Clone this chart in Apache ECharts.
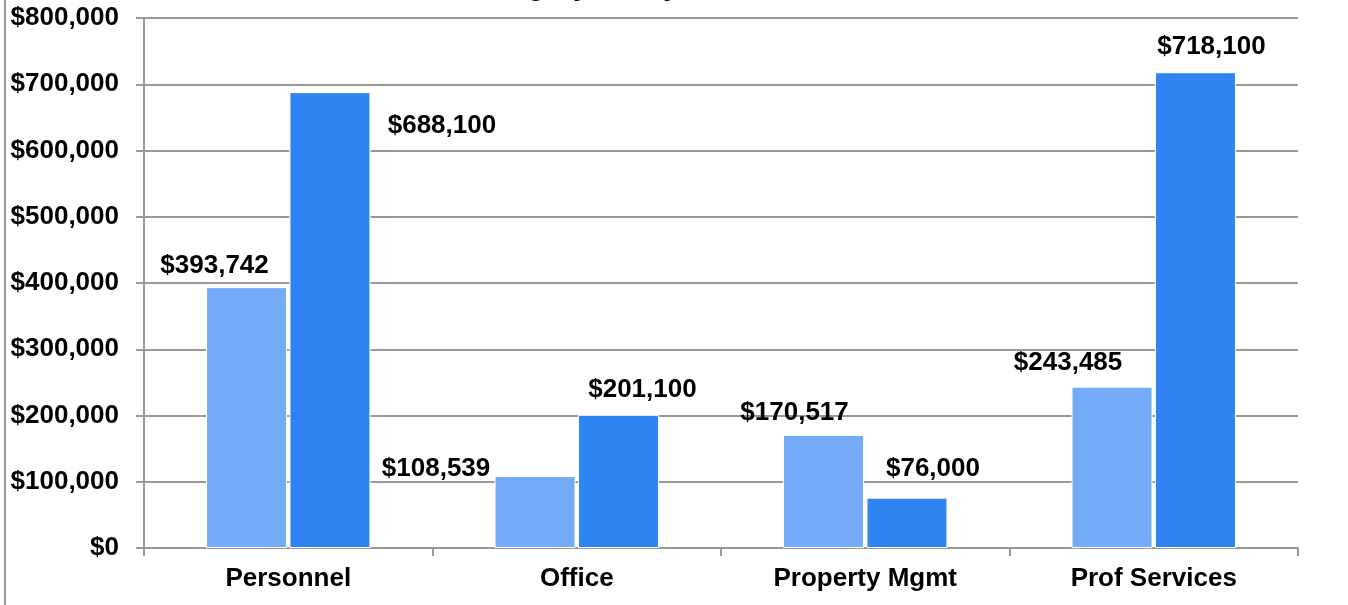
<!DOCTYPE html>
<html>
<head>
<meta charset="UTF-8">
<title>Category Yearly Trend</title>
<script src="https://cdn.jsdelivr.net/npm/echarts@6/dist/echarts.min.js"></script>
<style>
  html, body { margin: 0; padding: 0; background: #fff; }
  #main { width: 1348px; height: 605px; }
</style>
</head>
<body>
<div id="main"></div>
<script>
// chart data
var categories = ['Personnel', 'Office', 'Property Mgmt', 'Prof Services'];
var priorValues = [393742, 108539, 170517, 243485];
var currentValues = [688100, 201100, 76000, 718100];
var yTicks = [0, 100000, 200000, 300000, 400000, 500000, 600000, 700000, 800000];

// label nudges (labels were moved by hand in the original)
var priorOffsets = [[-32, -3], [-99, 11], [-29, -4], [-44, -6]];
var currentOffsets = [[112, 52], [24, -7], [26, -11], [16, -7]];

function money(v) {
  return '$' + Math.round(v).toString().replace(/\B(?=(\d{3})+(?!\d))/g, ',');
}

function withOffsets(values, offsets) {
  return values.map(function (v, i) {
    return { value: v, label: { offset: offsets[i] } };
  });
}

var labelStyle = {
  show: true,
  position: 'top',
  distance: 5,
  fontFamily: 'Liberation Sans, Arial, sans-serif',
  fontWeight: 'bold',
  fontSize: 26,
  color: '#000',
  formatter: function (p) { return money(p.value); }
};

var myChart = echarts.init(document.getElementById('main'));
myChart.setOption({
  animation: false,
  backgroundColor: '#fff',
  title: {
    text: 'Category Yearly Trend',
    left: 610,
    textAlign: 'center',
    top: -32,
    textStyle: { fontFamily: 'Liberation Sans, Arial, sans-serif', fontWeight: 'bold', fontSize: 28, color: '#000' }
  },
  graphic: [{
    type: 'line',
    shape: { x1: 5, y1: 0, x2: 5, y2: 605 },
    style: { stroke: '#999', lineWidth: 2 }
  }],
  grid: { left: 144, right: 50, top: 18, bottom: 57 },
  xAxis: {
    type: 'category',
    data: categories,
    axisLine: { lineStyle: { color: '#999', width: 2 } },
    axisTick: { show: true, length: 8, lineStyle: { color: '#999', width: 2 } },
    axisLabel: {
      margin: 18,
      fontFamily: 'Liberation Sans, Arial, sans-serif',
      fontWeight: 'bold',
      fontSize: 26,
      color: '#000'
    }
  },
  yAxis: {
    type: 'value',
    min: yTicks[0],
    max: yTicks[yTicks.length - 1],
    interval: yTicks[1] - yTicks[0],
    axisLine: { show: true, lineStyle: { color: '#999', width: 2 } },
    axisTick: { show: true, length: 8, lineStyle: { color: '#999', width: 2 } },
    splitLine: { lineStyle: { color: '#999', width: 2 } },
    axisLabel: {
      margin: 25,
      fontFamily: 'Liberation Sans, Arial, sans-serif',
      fontWeight: 'bold',
      fontSize: 26,
      color: '#000',
      formatter: money
    }
  },
  series: [{
    name: 'Prior Year',
    type: 'bar',
    barWidth: 81,
    barGap: '3%',
    itemStyle: { color: '#74abf7', borderColor: '#ffffff', borderWidth: 1 },
    label: labelStyle,
    data: withOffsets(priorValues, priorOffsets)
  }, {
    name: 'Current Year',
    type: 'bar',
    barWidth: 81,
    itemStyle: { color: '#2f84f2', borderColor: '#ffffff', borderWidth: 1 },
    label: labelStyle,
    data: withOffsets(currentValues, currentOffsets)
  }]
});
</script>
</body>
</html>
